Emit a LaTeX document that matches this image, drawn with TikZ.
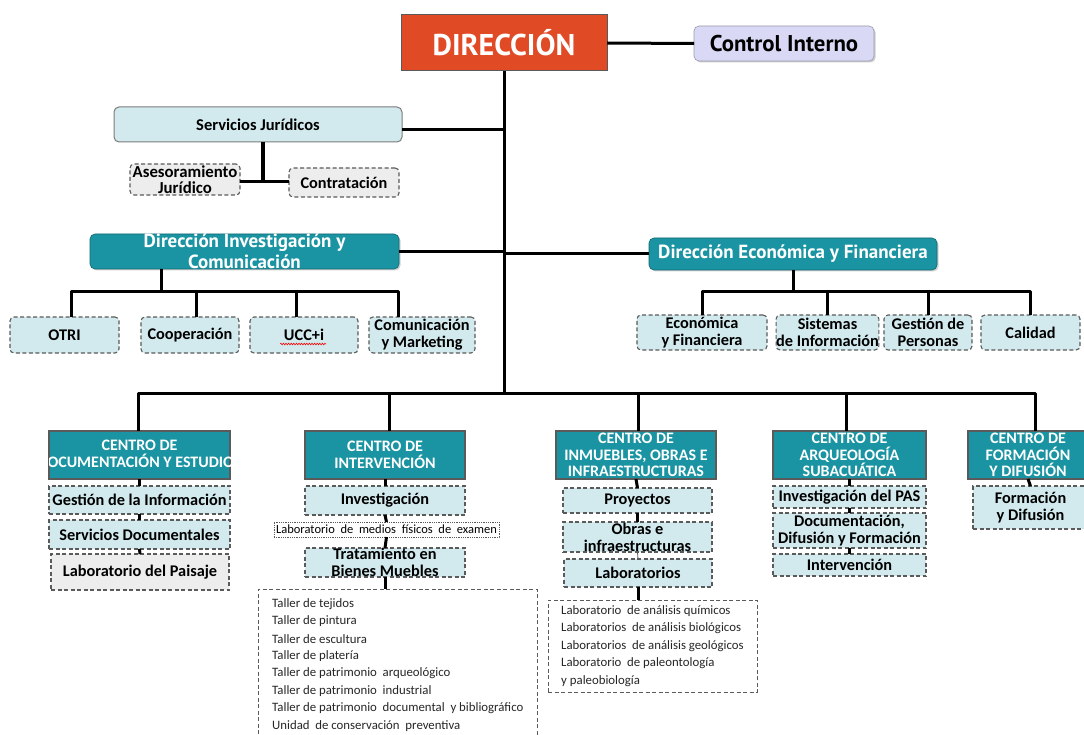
\documentclass[tikz,border=0pt]{standalone}
\usepackage{fontspec}
\setmainfont{Carlito}
\newfontfamily\hdfont{PT Sans}
\usetikzlibrary{shadows,decorations.pathmorphing}
\definecolor{dirred}{HTML}{E04A25}
\definecolor{tealc}{HTML}{1A94A2}
\definecolor{lblue}{HTML}{D2EAEE}
\definecolor{lgray}{HTML}{EDEDED}
\definecolor{lav}{HTML}{D9D9F5}
\definecolor{bord}{HTML}{5A5A5A}
\newcommand\mkbox[7]{\node[#2, minimum width={#5-#3}, minimum height={#6-#4}] (#1) at ({(#3+#5)/2},{(#4+#6)/2}) {#7};}
\begin{document}
\begin{tikzpicture}[x=1pt,y=-1pt,
  conn/.style={line width=3pt, black},
  sconn/.style={line width=3pt, black},
  base/.style={inner sep=0pt, outer sep=0pt, align=center},
  subfont/.style={font=\bfseries\fontsize{16.3}{17}\selectfont},
  dashb/.style={base, subfont, draw=bord, line width=1.1pt, dash pattern=on 4pt off 2.5pt},
  dblue/.style={dashb, fill=lblue},
  dgray/.style={dashb, fill=lgray},
  dbluer/.style={dblue, rounded corners=4pt},
  dgrayr/.style={dgray, rounded corners=4pt},
  hdbox/.style={base, fill=tealc, draw=tealc!70!black, line width=0.6pt, rounded corners=5pt, text=white,
     font=\hdfont\bfseries\fontsize{19}{21}\selectfont,
     drop shadow={opacity=0.35, shadow xshift=1.5pt, shadow yshift=-1.5pt}},
  centre/.style={base, fill=tealc, draw=bord, line width=1.2pt, text=white,
     font=\bfseries\fontsize{16}{16.5}\selectfont},
  listbox/.style={base, draw=bord, line width=1pt, dash pattern=on 4pt off 2.5pt, fill=white},
  listtxt/.style={inner sep=0pt, anchor=west, text=black!85, font=\fontsize{12.8}{14}\selectfont},
]
\useasboundingbox (0,0) rectangle (1084,735);
\fill[white] (0,0) rectangle (1084,735);

% --- top level
\mkbox{dir}{base, fill=dirred, draw=bord, line width=1pt, text=white, font=\hdfont\bfseries\fontsize{30}{30}\selectfont}{401}{15}{607}{71}{DIRECCIÓN}
\mkbox{ci}{base, fill=lav, draw=lav!70!black, line width=0.6pt, rounded corners=5pt, font=\hdfont\bfseries\fontsize{22.8}{24}\selectfont, drop shadow={opacity=0.4, shadow xshift=1.5pt, shadow yshift=-1.5pt}}{694}{26}{874}{61}{Control Interno}
\coordinate (busc) at (504,393);
\draw[conn] (dir.east) -- (ci.west);
\draw[conn] (dir.south) -- (busc);

% --- servicios juridicos
\mkbox{sj}{base, fill=lblue, draw=bord!80, line width=1pt, rounded corners=5pt, font=\bfseries\fontsize{16.5}{17}\selectfont}{114}{107}{402}{142}{Servicios Jurídicos}
\mkbox{as}{dgrayr, font=\bfseries\fontsize{16.8}{16}\selectfont}{130}{164}{240}{195}{Asesoramiento\\Jurídico}
\mkbox{ct}{dgrayr}{289}{168}{399}{197}{Contratación}
\coordinate (sjm) at (504,130);
\coordinate (sjd) at (263,182);
\draw[conn] (sj.east |- sjm) -- (sjm);
\draw[line width=3.8pt] (sj.south -| sjd) -- (sjd);
\draw[conn] (as.east |- sjd) -- (ct.west |- sjd);

% --- direccion investigacion
\mkbox{di}{hdbox}{90}{234}{399}{269}{Dirección Investigación y\\Comunicación}
\draw[conn] (di.east) -- (di.east -| busc);
\mkbox{otri}{dbluer}{10}{317}{119}{353}{OTRI}
\mkbox{coop}{dbluer}{141}{317}{239}{353}{Cooperación}
\mkbox{ucc}{dbluer}{250}{317}{358}{353}{UCC+i}
\mkbox{com}{dbluer}{369}{317}{475}{353}{Comunicación\\y Marketing}
\draw[red, line width=0.6pt, decorate, decoration={snake, amplitude=0.8pt, segment length=2.6pt}] (280,344) -- (326,344);
\coordinate (ib1) at (71,292);
\coordinate (ib2) at (196,292);
\coordinate (ib3) at (296,292);
\coordinate (ib4) at (398,292);
\coordinate (ibm) at (161,292);
\draw[conn] (di.south -| ibm) -- (ibm);
\draw[conn, line join=round] (ib1 |- otri.north) -- (ib1) -- (ib4) -- (ib4 |- com.north);
\draw[conn] (ib2) -- (ib2 |- coop.north);
\draw[conn] (ib3) -- (ib3 |- ucc.north);

% --- direccion economica
\mkbox{de}{hdbox}{649}{238}{937}{270}{Dirección Económica y Financiera}
\draw[conn] (de.west) -- (de.west -| busc);
\mkbox{eco}{dbluer}{637}{315}{767}{350}{Económica\\y Financiera}
\mkbox{sis}{dbluer}{778}{315}{877}{350}{Sistemas\\de Información}
\mkbox{gp}{dbluer}{884}{315}{972}{350}{Gestión de\\Personas}
\mkbox{cal}{dbluer}{981}{315}{1080}{350}{Calidad}
\coordinate (eb) at (793,292);
\draw[conn] (de.south -| eb) -- (eb);
\draw[conn, line join=round] (eco.north) -- (eco.north |- eb) -- (cal.north |- eb) -- (cal.north);
\draw[conn] (sis.north |- eb) -- (sis.north);
\draw[conn] (gp.north |- eb) -- (gp.north);

% --- main bus
\coordinate (mb1) at (138,393);
\coordinate (mb2) at (389,393);
\coordinate (mb3) at (638,393);
\coordinate (mb4) at (846,393);
\coordinate (mb5) at (1035,393);

% Centro de documentacion
\mkbox{cd}{centre}{49}{431}{230}{479}{}
\begin{scope}
\clip (49,431) rectangle (230,479);
\node[base, text=white, font=\bfseries\fontsize{16}{16.5}\selectfont] (cdt) at (139.5,454) {CENTRO DE\\DOCUMENTACIÓN Y ESTUDIOS};
\end{scope}
\mkbox{gi}{dblue}{49}{486}{230}{514}{Gestión de la Información}
\mkbox{sd}{dblue}{49}{520}{230}{549}{Servicios Documentales}
\mkbox{lp}{dgray}{51}{554}{229}{590}{Laboratorio del Paisaje}

% Centro de intervencion
\mkbox{cx}{centre}{305}{431}{465}{479}{CENTRO DE\\INTERVENCIÓN}
\mkbox{inv}{dblue}{305}{486}{465}{515}{Investigación}
\mkbox{lm}{base, fill=white, draw=bord, line width=0.8pt, dash pattern=on 0.9pt off 0.9pt, font=\fontsize{12.5}{13}\selectfont}{274}{522}{499}{537}{Laboratorio\ \ de\ \ medios\ \ físicos\ \ de\ \ examen}
\mkbox{tb}{dblue}{305}{548}{465}{577}{Tratamiento en\\Bienes Muebles}
\mkbox{il}{listbox}{258}{589}{537}{748}{}

% Centro de inmuebles
\mkbox{cm}{centre}{556}{431}{716}{479}{CENTRO DE\\INMUEBLES, OBRAS E\\INFRAESTRUCTURAS}
\mkbox{pr}{dblue}{563}{488}{712}{513}{Proyectos}
\mkbox{ob}{dblue}{563}{522}{712}{552}{Obras e\\infraestructuras}
\mkbox{lab}{dblue}{564}{559}{712}{587}{Laboratorios}
\mkbox{ll}{listbox}{548}{600}{757}{692}{}

% Centro de arqueologia
\mkbox{ca}{centre}{773}{431}{926}{479}{CENTRO DE\\ARQUEOLOGÍA\\SUBACUÁTICA}
\mkbox{pas}{dblue}{773}{486}{926}{508}{Investigación del PAS}
\mkbox{ddf}{dblue}{773}{513}{926}{548}{Documentación,\\Difusión y Formación}
\mkbox{int}{dblue}{773}{554}{926}{576}{Intervención}

% Centro de formacion
\mkbox{cf}{centre}{968}{431}{1088}{479}{CENTRO DE\\FORMACIÓN\\Y DIFUSIÓN}
\mkbox{fd}{dblue}{973}{486}{1088}{529}{Formación\\y Difusión}

% main bus drawing
\draw[conn, line join=round] (mb1 |- cd.north) -- (mb1) -- (mb5) -- (mb5 |- cf.north);
\draw[conn] (mb2) -- (mb2 |- cx.north);
\draw[conn] (mb3) -- (mb3 |- cm.north);
\draw[conn] (mb4) -- (mb4 |- ca.north);

% short connectors
\draw[sconn] (cd.south) -- (gi.north);
\draw[sconn] (gi.south) -- (sd.north);
\draw[sconn] (sd.south) -- (lp.north);
\draw[sconn] (cx.south) -- (inv.north);
\draw[sconn] (inv.south) -- (lm.north);
\draw[sconn] (lm.south) -- (tb.north);
\draw[sconn] (tb.south) -- (il.north -| tb.south);
\draw[sconn] (cm.south) -- (pr.north);
\draw[sconn] (pr.south) -- (ob.north);
\draw[bord, line width=0.8pt] (ob.south) -- (lab.north);
\draw[sconn] (lab.south) -- (ll.north -| lab.south);
\draw[sconn] (ca.south) -- (pas.north);
\draw[sconn] (pas.south) -- (ddf.north);
\draw[sconn] (ddf.south) -- (int.north);
\draw[sconn] (cf.south) -- (fd.north);

% lists
\foreach \t [count=\i] in {Taller de tejidos, Taller de pintura, Taller de escultura, Taller de platería, Taller de patrimonio\ \ arqueológico, Taller de patrimonio\ \ industrial, Taller de patrimonio\ \ documental\ \ y bibliográfico, Unidad\ \ de conservación\ \ preventiva}
  \node[listtxt] (t\i) at (272,{604+17.4*(\i-1)}) {\t};
\foreach \t [count=\i] in {Laboratorio\ \ de análisis químicos, Laboratorios\ \ de análisis biológicos, Laboratorios\ \ de análisis geológicos, Laboratorio\ \ de paleontología, y paleobiología}
  \node[listtxt] (l\i) at (561,{611+17.5*(\i-1)}) {\t};
\end{tikzpicture}
\end{document}
